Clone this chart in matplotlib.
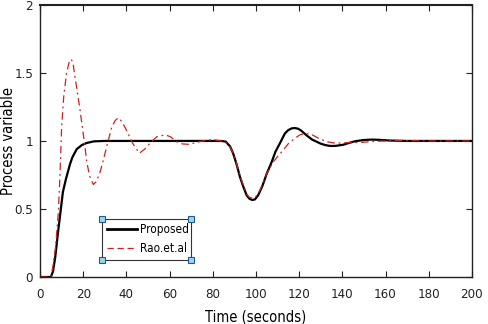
import matplotlib

matplotlib.use("Agg")
import matplotlib.pyplot as plt
from matplotlib import font_manager

# Proposed controller response
t_prop = [0, 5, 6, 7, 8.5, 10.6, 12, 13.9, 15, 17, 19.4, 21.6, 25, 30, 40, 50,
          60, 70, 80, 84, 86, 88, 89.4, 91, 92.6, 94, 95.7, 97, 98.3, 99.5,
          101, 103, 105, 107.3, 109, 111, 113.4, 115, 116.5, 118, 119.5, 121,
          123.5, 126, 128, 130, 132, 134, 135, 137, 140.4, 143, 146, 150,
          153.7, 157, 162, 170, 180, 200]
y_prop = [0, 0, 0.04, 0.14, 0.35, 0.625, 0.72, 0.83, 0.88, 0.94, 0.97, 0.985,
          0.997, 1.0, 1.0, 1.0, 1.0, 1.0, 1.0, 1.0, 0.995, 0.96, 0.91, 0.83,
          0.735, 0.67, 0.6, 0.575, 0.566, 0.57, 0.6, 0.67, 0.76, 0.846, 0.92,
          0.98, 1.055, 1.08, 1.092, 1.095, 1.09, 1.075, 1.04, 1.01, 0.995,
          0.98, 0.97, 0.964, 0.963, 0.964, 0.972, 0.985, 0.998, 1.007, 1.01,
          1.008, 1.003, 1.0, 1.0, 1.0]

# Rao et al. response
t_rao = [0, 5, 6, 7.2, 8.5, 9.3, 10, 11, 12.3, 13.5, 14.5, 15.3, 16.2, 17.4,
         18.5, 19.7, 20.8, 21.6, 23, 24.7, 26, 27.8, 29.5, 30.9, 33.2, 34.8,
         36.3, 38, 40, 43, 46, 48.5, 51, 54, 58, 60.5, 63, 66, 69, 71.5, 74,
         77, 80, 84, 86, 88, 89.4, 91, 92.6, 94, 95.7, 97, 98.3, 99.5, 101,
         103, 105, 108, 110, 112.5, 115, 118, 120.4, 123, 126, 129, 132.7,
         136, 139, 144, 149.5, 155, 165, 180, 200]
y_rao = [0, 0, 0.08, 0.22, 0.48, 0.77, 1.1, 1.33, 1.5, 1.58, 1.6, 1.57, 1.47,
         1.35, 1.23, 1.09, 0.96, 0.85, 0.74, 0.68, 0.7, 0.77, 0.87, 0.96,
         1.1, 1.15, 1.17, 1.14, 1.08, 0.98, 0.91, 0.94, 0.985, 1.03, 1.045,
         1.03, 0.995, 0.978, 0.975, 0.985, 0.995, 1.005, 1.01, 1.0, 0.99,
         0.955, 0.91, 0.835, 0.745, 0.68, 0.61, 0.585, 0.58, 0.585, 0.61,
         0.68, 0.76, 0.846, 0.885, 0.93, 0.98, 1.02, 1.045, 1.055, 1.045,
         1.02, 0.995, 0.985, 0.985, 0.988, 0.99, 0.997, 1.003, 1.0, 1.0]

x_ticks = [0, 20, 40, 60, 80, 100, 120, 140, 160, 180, 200]
y_ticks = [0, 0.5, 1, 1.5, 2]
y_tick_labels = ["0", "0.5", "1", "1.5", "2"]

# narrow sans looks closest to the MATLAB export; fall back to Liberation Sans
cond = font_manager.FontProperties(family="DejaVu Sans", stretch="condensed")
cond_path = font_manager.findfont(cond)
if "Condensed" in cond_path:
    plt.rcParams["font.family"] = ["DejaVu Sans"]
    plt.rcParams["font.stretch"] = "condensed"
    fs_tick, fs_label, fs_leg = 9.5, 10.5, 8.5
else:
    plt.rcParams["font.family"] = ["Liberation Sans", "DejaVu Sans"]
    fs_tick, fs_label, fs_leg = 9.5, 10.5, 8.0

fig = plt.figure(figsize=(4.88, 3.24), dpi=100)
ax = fig.add_axes([0.082, 0.145, 0.885, 0.84])

ax.plot(t_prop, y_prop, color="black", lw=1.6, label="Proposed")
ax.plot(t_rao, y_rao, color="#cc2222", lw=0.9, ls=(0, (6, 3, 1.5, 3)),
        label="Rao.et.al")

ax.set_xlim(0, 200)
ax.set_ylim(0, 2)
ax.set_xticks(x_ticks)
ax.set_yticks(y_ticks)
ax.set_yticklabels(y_tick_labels)
ax.tick_params(direction="in", top=True, right=True, length=4, width=0.8,
               labelsize=fs_tick, colors="#222222")
ax.tick_params(axis="x", pad=8)
ax.tick_params(axis="y", pad=5)
for side, sp in ax.spines.items():
    sp.set_linewidth(1.5 if side == "top" else 1.0)
    sp.set_color("#222222")

ax.set_xlabel("Time (seconds)", fontsize=fs_label, labelpad=6)
ax.set_ylabel("Process variable", fontsize=fs_label)
ax.yaxis.set_label_coords(-0.055, 0.5)

# legend handles: legend line style is plain dashed
h_prop = plt.Line2D([], [], color="black", lw=2.0)
h_rao = plt.Line2D([], [], color="#cc2222", lw=0.9, ls=(0, (5, 3)))
leg = ax.legend([h_prop, h_rao], ["Proposed", "Rao.et.al"],
                loc="lower left", bbox_to_anchor=(0.1435, 0.0625, 0.206, 0.162),
                mode="expand", fontsize=fs_leg, frameon=True, fancybox=False,
                edgecolor="black", handlelength=2.6, handletextpad=0.25,
                borderpad=0.4, labelspacing=0.5, borderaxespad=0)
leg.get_frame().set_linewidth(0.8)

# selection handles at legend corners (MATLAB edit-mode look)
fig.canvas.draw()
bb = leg.get_window_extent().transformed(ax.transAxes.inverted())
corner_x = [bb.x0, bb.x1, bb.x0, bb.x1]
corner_y = [bb.y0, bb.y0, bb.y1, bb.y1]
ax.plot(corner_x, corner_y, ls="none", marker="s", ms=4.5, mfc="#9fd3ec",
        mec="#1f5a8f", mew=0.8, transform=ax.transAxes, clip_on=False,
        zorder=10)

fig.savefig("out.png", dpi=100)
